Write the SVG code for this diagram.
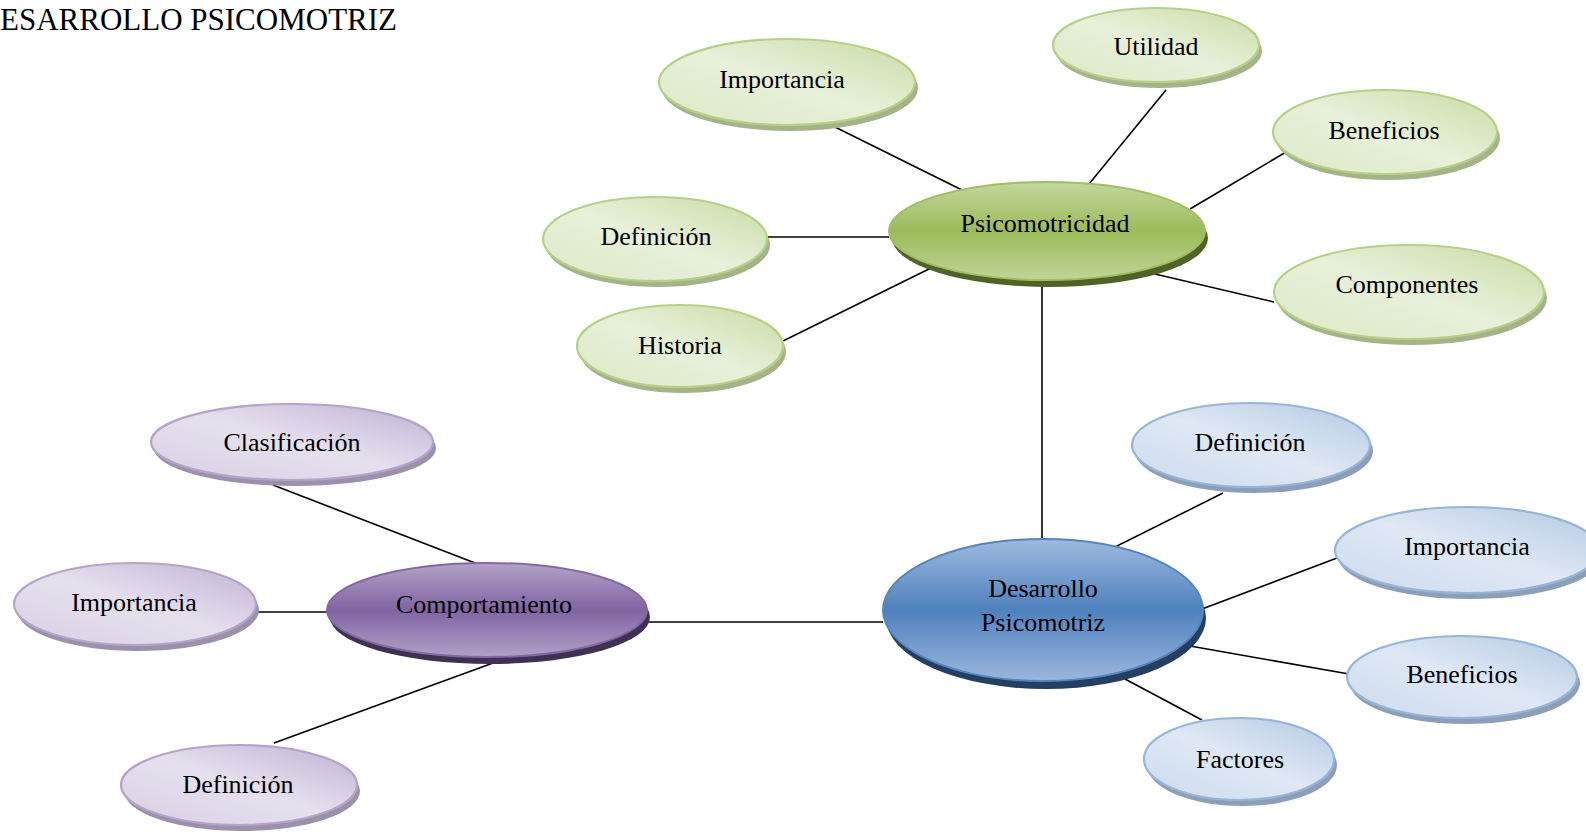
<svg xmlns="http://www.w3.org/2000/svg" width="1586" height="835" viewBox="0 0 1586 835">
<style>
text{font-family:"Liberation Serif","Times New Roman",serif;font-size:26px;fill:#000;text-anchor:middle}
.title{font-size:31px;text-anchor:start}
.conn line{stroke:#000;stroke-width:1.6}
.gS{fill:#a5b488}.pS{fill:#9b91aa}.bS{fill:#8b9fb8}
.gM{fill:url(#gMain);stroke:#9fbe60;stroke-width:2}
.pM{fill:url(#pMain);stroke:#8468a6;stroke-width:2}
.bM{fill:url(#bMain);stroke:#5585c0;stroke-width:2}
.gMS{fill:#4f6228}.pMS{fill:#3f3151}.bMS{fill:#243f60}
.g{fill:url(#gSub);stroke:#b7d087;stroke-width:2.2}
.p{fill:url(#pSub);stroke:#b5a4c9;stroke-width:2.2}
.b{fill:url(#bSub);stroke:#98b5d8;stroke-width:2.2}
</style>
<defs>
<linearGradient id="gMain" x1="0" y1="0" x2="0" y2="1">
<stop offset="0" stop-color="#c3d79e"/><stop offset="0.5" stop-color="#9bbb59"/><stop offset="1" stop-color="#c0d598"/>
</linearGradient>
<linearGradient id="pMain" x1="0" y1="0" x2="0" y2="1">
<stop offset="0" stop-color="#b3a2c9"/><stop offset="0.5" stop-color="#8064a2"/><stop offset="1" stop-color="#b1a0c7"/>
</linearGradient>
<linearGradient id="bMain" x1="0" y1="0" x2="0" y2="1">
<stop offset="0" stop-color="#9dbadf"/><stop offset="0.5" stop-color="#4f81bd"/><stop offset="1" stop-color="#9ab7dd"/>
</linearGradient>
<linearGradient id="gSub" x1="1" y1="0" x2="0" y2="1">
<stop offset="0" stop-color="#c8dca3"/><stop offset="0.5" stop-color="#e8f0da"/><stop offset="1" stop-color="#dde9c7"/>
</linearGradient>
<linearGradient id="pSub" x1="1" y1="0" x2="0" y2="1">
<stop offset="0" stop-color="#bfb1d3"/><stop offset="0.5" stop-color="#e6e0ee"/><stop offset="1" stop-color="#d9d0e4"/>
</linearGradient>
<linearGradient id="bSub" x1="1" y1="0" x2="0" y2="1">
<stop offset="0" stop-color="#b3c9e4"/><stop offset="0.5" stop-color="#dfe8f4"/><stop offset="1" stop-color="#ccdbee"/>
</linearGradient>
</defs>
<rect width="1586" height="835" fill="#fff"/>
<text class="title" x="0" y="30">ESARROLLO PSICOMOTRIZ</text>
<g id="connectors" class="conn">
<line x1="835" y1="127" x2="962" y2="190"/>
<line x1="768" y1="237" x2="889" y2="237"/>
<line x1="783" y1="341" x2="933" y2="267"/>
<line x1="1166" y1="90" x2="1089" y2="184"/>
<line x1="1190" y1="209" x2="1286" y2="152"/>
<line x1="1155" y1="274" x2="1274" y2="302"/>
<line x1="1042" y1="282" x2="1042" y2="539"/>
<line x1="273" y1="485" x2="475" y2="563"/>
<line x1="257" y1="612" x2="327" y2="612"/>
<line x1="274" y1="743" x2="493" y2="663"/>
<line x1="647" y1="622" x2="883" y2="622"/>
<line x1="1111" y1="549" x2="1223" y2="493"/>
<line x1="1202" y1="609" x2="1337" y2="558"/>
<line x1="1190" y1="646" x2="1349" y2="674"/>
<line x1="1125" y1="679" x2="1202" y2="720"/>
</g>
<g id="psicomotricidad">
<ellipse class="gMS" cx="1050" cy="238" rx="158" ry="49"/>
<ellipse class="gM" cx="1047" cy="231" rx="158" ry="49"/>
<text x="1045" y="232">Psicomotricidad</text>
</g>
<g id="desarrollo">
<ellipse class="bMS" cx="1046" cy="618" rx="160" ry="71"/>
<ellipse class="bM" cx="1043" cy="610" rx="160" ry="71"/>
<text x="1043" y="597">Desarrollo</text>
<text x="1043" y="631">Psicomotriz</text>
</g>
<g id="comportamiento">
<ellipse class="pMS" cx="490" cy="617" rx="160" ry="47"/>
<ellipse class="pM" cx="487" cy="610" rx="160" ry="47"/>
<text x="484" y="613">Comportamiento</text>
</g>
<g id="importancia-psico">
<ellipse class="gS" cx="790" cy="88" rx="128" ry="43"/>
<ellipse class="g" cx="787" cy="82" rx="128" ry="43"/>
<text x="782" y="88">Importancia</text>
</g>
<g id="utilidad">
<ellipse class="gS" cx="1159" cy="51" rx="103" ry="37"/>
<ellipse class="g" cx="1156" cy="45" rx="103" ry="37"/>
<text x="1156" y="55">Utilidad</text>
</g>
<g id="beneficios-psico">
<ellipse class="gS" cx="1388" cy="138" rx="112" ry="42"/>
<ellipse class="g" cx="1385" cy="132" rx="112" ry="42"/>
<text x="1384" y="139">Beneficios</text>
</g>
<g id="componentes">
<ellipse class="gS" cx="1412" cy="298" rx="135" ry="47"/>
<ellipse class="g" cx="1409" cy="292" rx="135" ry="47"/>
<text x="1407" y="293">Componentes</text>
</g>
<g id="definicion-psico">
<ellipse class="gS" cx="658" cy="245" rx="112" ry="42"/>
<ellipse class="g" cx="655" cy="239" rx="112" ry="42"/>
<text x="656" y="245">Definición</text>
</g>
<g id="historia">
<ellipse class="gS" cx="683" cy="352" rx="103" ry="41"/>
<ellipse class="g" cx="680" cy="346" rx="103" ry="41"/>
<text x="680" y="354">Historia</text>
</g>
<g id="clasificacion">
<ellipse class="pS" cx="295" cy="448" rx="141" ry="38"/>
<ellipse class="p" cx="292" cy="442" rx="141" ry="38"/>
<text x="292" y="451">Clasificación</text>
</g>
<g id="importancia-comp">
<ellipse class="pS" cx="138" cy="610" rx="121" ry="41"/>
<ellipse class="p" cx="135" cy="604" rx="121" ry="41"/>
<text x="134" y="611">Importancia</text>
</g>
<g id="definicion-comp">
<ellipse class="pS" cx="242" cy="791" rx="118" ry="40"/>
<ellipse class="p" cx="239" cy="785" rx="118" ry="40"/>
<text x="238" y="793">Definición</text>
</g>
<g id="definicion-des">
<ellipse class="bS" cx="1254" cy="451" rx="119" ry="42"/>
<ellipse class="b" cx="1251" cy="445" rx="119" ry="42"/>
<text x="1250" y="451">Definición</text>
</g>
<g id="importancia-des">
<ellipse class="bS" cx="1470" cy="556" rx="132" ry="43"/>
<ellipse class="b" cx="1467" cy="550" rx="132" ry="43"/>
<text x="1467" y="555">Importancia</text>
</g>
<g id="beneficios-des">
<ellipse class="bS" cx="1465" cy="683" rx="115" ry="41"/>
<ellipse class="b" cx="1462" cy="677" rx="115" ry="41"/>
<text x="1462" y="683">Beneficios</text>
</g>
<g id="factores">
<ellipse class="bS" cx="1242" cy="765" rx="95" ry="41"/>
<ellipse class="b" cx="1239" cy="759" rx="95" ry="41"/>
<text x="1240" y="768">Factores</text>
</g>
</svg>
